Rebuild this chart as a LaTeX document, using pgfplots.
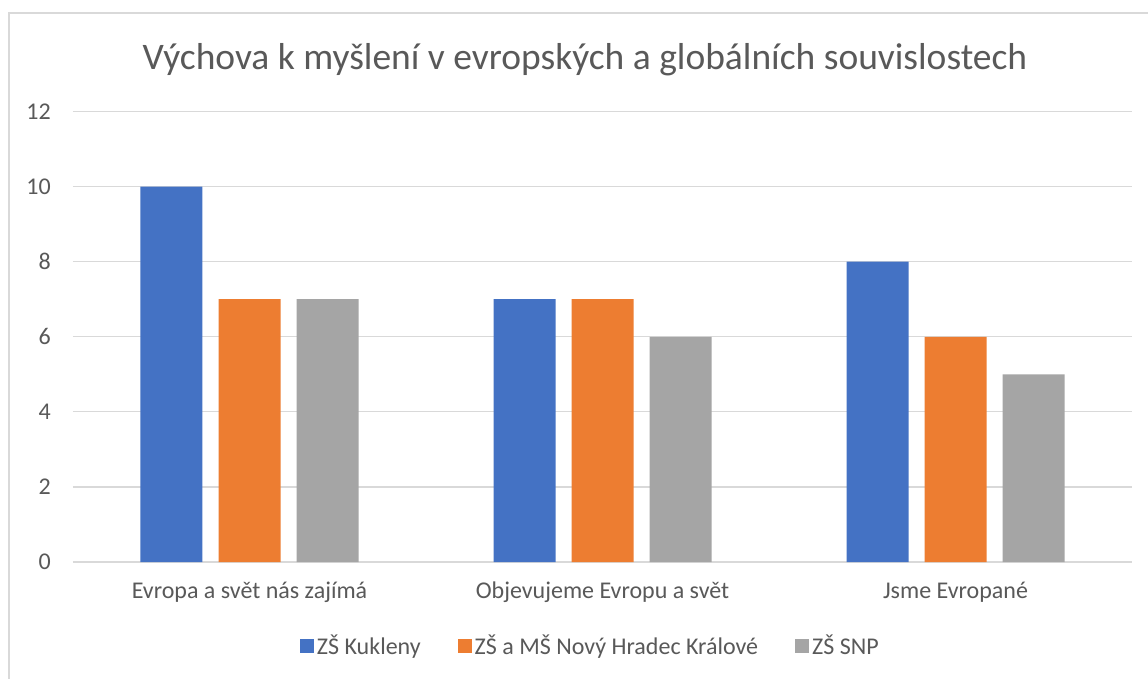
\documentclass[border=0pt]{standalone}
\usepackage{fontspec}
\setmainfont{Carlito}
\usepackage{pgfplots}
\pgfplotsset{compat=1.18}
\definecolor{cblue}{HTML}{4472C4}
\definecolor{corange}{HTML}{ED7D31}
\definecolor{cgray}{HTML}{A5A5A5}
\definecolor{ctext}{HTML}{595959}
\definecolor{cgrid}{HTML}{D9D9D9}
\begin{document}
\begin{tikzpicture}
\useasboundingbox (0,0) rectangle (1148pt,678pt);
\fill[white] (0,0) rectangle (1148pt,678pt);
\draw[cgrid, line width=1.3pt] (9pt,-5pt) -- (9pt,665pt) -- (1160pt,665pt);
\node[text=ctext, font=\fontsize{37.5}{42}\selectfont] at (585pt,618pt) {Výchova k myšlení v evropských a globálních souvislostech};
\begin{axis}[
  at={(73pt,116pt)}, anchor=south west,
  scale only axis, width=1059pt, height=450.5pt,
  ybar, bar width=62pt,
  xmin=-0.5, xmax=2.5, ymin=0, ymax=12,
  xtick={0,1,2},
  xticklabels={Evropa a svět nás zajímá, Objevujeme Evropu a svět, Jsme Evropané},
  ytick={0,2,4,6,8,10,12},
  ymajorgrids, grid style={cgrid, line width=1.3pt},
  axis line style={draw=none},
  major tick length=0pt,
  /pgf/number format/assume math mode=true,
  tick label style={text=ctext, font=\fontsize{24}{28}\selectfont},
  yticklabel style={inner sep=0pt, xshift=-22pt},
  xticklabel style={inner sep=0pt, yshift=-20pt},
  legend image code/.code={\fill[#1] (-5pt,-7pt) rectangle (9pt,7pt);},
  legend style={at={(0.489,-0.186)}, anchor=center, draw=none, legend columns=3,
    font=\fontsize{24}{28}\selectfont, text=ctext,
    /tikz/every even column/.append style={column sep=34pt},
    nodes={inner sep=3pt}},
]
\addplot[fill=cblue, draw=none, bar shift=-78pt] coordinates {(0,10) (1,7) (2,8)};
\addplot[fill=corange, draw=none, bar shift=0pt] coordinates {(0,7) (1,7) (2,6)};
\addplot[fill=cgray, draw=none, bar shift=78pt] coordinates {(0,7) (1,6) (2,5)};
\legend{ZŠ Kukleny, ZŠ a MŠ Nový Hradec Králové, ZŠ SNP}
\end{axis}
\end{tikzpicture}
\end{document}
